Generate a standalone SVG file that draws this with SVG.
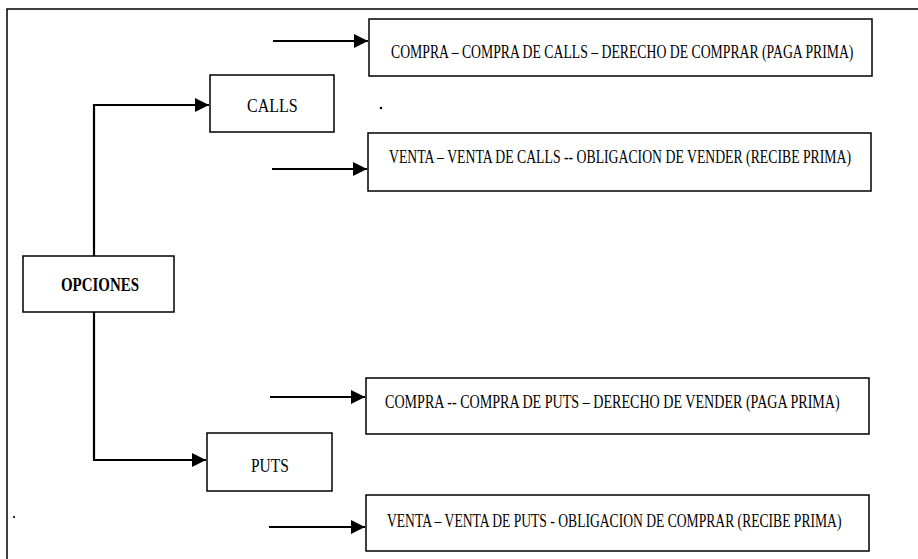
<svg xmlns="http://www.w3.org/2000/svg" width="918" height="559" viewBox="0 0 918 559">
<style>
.box{fill:#fff;stroke:#000;stroke-width:1.5}
.t{font-family:"Liberation Serif","Times New Roman",serif;font-size:18px;fill:#000}
.c{fill:none;stroke:#000;stroke-width:2.2}
.frame{fill:none;stroke:#000;stroke-width:1.5}
</style>
<defs>
<marker id="ah" markerUnits="userSpaceOnUse" markerWidth="16" markerHeight="16" refX="15" refY="8" orient="auto">
<path d="M1,1 L15,8 L1,15 Z" fill="#000"/>
</marker>
</defs>
<rect width="918" height="559" fill="#fff"/>
<path class="frame" d="M7,559 V9 H918"/>
<circle cx="381" cy="108" r="1.3" fill="#000"/>
<circle cx="14" cy="517" r="1.1" fill="#000"/>
<g id="connectors">
<path class="c" d="M94,256 V105 H209" marker-end="url(#ah)"/>
<path class="c" d="M94,312 V460 H206" marker-end="url(#ah)"/>
<path class="c" d="M273,41 H368" marker-end="url(#ah)"/>
<path class="c" d="M272,169 H367" marker-end="url(#ah)"/>
<path class="c" d="M270,397 H365" marker-end="url(#ah)"/>
<path class="c" d="M269,527 H365" marker-end="url(#ah)"/>
</g>
<g id="opciones">
<rect class="box" x="23" y="256" width="151" height="56"/>
<text class="t" transform="translate(61,291) scale(0.83,1)" font-weight="bold">OPCIONES</text>
</g>
<g id="calls">
<rect class="box" x="210" y="75" width="124" height="57"/>
<text class="t" transform="translate(247,112) scale(0.89,1)">CALLS</text>
</g>
<g id="puts">
<rect class="box" x="207" y="433" width="125" height="58"/>
<text class="t" transform="translate(251,472) scale(0.86,1)">PUTS</text>
</g>
<g id="compra-calls">
<rect class="box" x="369" y="19" width="503" height="57"/>
<text class="t" transform="translate(391,58) scale(0.763,1)">COMPRA – COMPRA DE CALLS – DERECHO DE COMPRAR (PAGA PRIMA)</text>
</g>
<g id="venta-calls">
<rect class="box" x="368" y="133" width="503" height="58"/>
<text class="t" transform="translate(389,163) scale(0.764,1)">VENTA – VENTA DE CALLS -- OBLIGACION DE VENDER (RECIBE PRIMA)</text>
</g>
<g id="compra-puts">
<rect class="box" x="366" y="378" width="503" height="56"/>
<text class="t" transform="translate(385,408) scale(0.783,1)">COMPRA -- COMPRA DE PUTS – DERECHO DE VENDER (PAGA PRIMA)</text>
</g>
<g id="venta-puts">
<rect class="box" x="366" y="495" width="503" height="56"/>
<text class="t" transform="translate(387,527) scale(0.756,1)">VENTA – VENTA DE PUTS - OBLIGACION DE COMPRAR (RECIBE PRIMA)</text>
</g>
</svg>
